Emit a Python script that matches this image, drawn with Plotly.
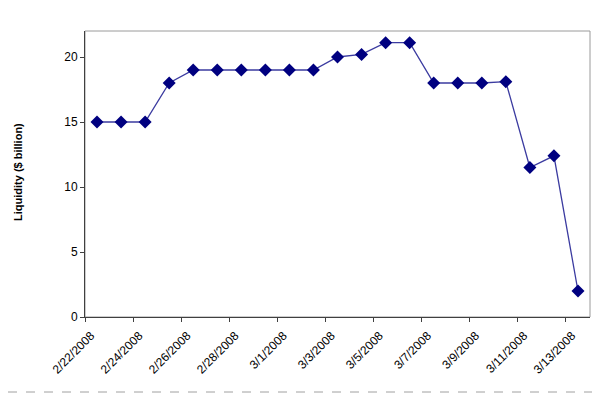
import plotly.graph_objects as go

dates = ["2/22/2008", "2/23/2008", "2/24/2008", "2/25/2008", "2/26/2008", "2/27/2008",
         "2/28/2008", "2/29/2008", "3/1/2008", "3/2/2008", "3/3/2008", "3/4/2008",
         "3/5/2008", "3/6/2008", "3/7/2008", "3/8/2008", "3/9/2008", "3/10/2008",
         "3/11/2008", "3/12/2008", "3/13/2008"]
liquidity = [15.0, 15.0, 15.0, 18.0, 19.0, 19.0, 19.0, 19.0, 19.0, 19.0, 20.0, 20.2,
             21.1, 21.1, 18.0, 18.0, 18.0, 18.1, 11.5, 12.4, 2.0]

# the page body adds an 8px offset, so the figure is laid out in shifted coords
OFF = 8
W, H = 600 - OFF, 393 - OFF
L, T = 85 - OFF, 31 - OFF
R = W - (590 - OFF)
B = H - (317 - OFF)
pw, ph = W - L - R, H - T - B

def px_x(x):
    return (x - OFF - L) / pw

def px_y(y):
    return (T + ph - (y - OFF)) / ph

fig = go.Figure()
fig.add_trace(go.Scatter(
    x=dates, y=liquidity, mode="lines+markers",
    line=dict(color="#3b3ba0", width=1.3),
    marker=dict(symbol="diamond", size=10, color="#000080",
                line=dict(color="#000080", width=0)),
    showlegend=False,
))

fig.update_layout(
    width=W, height=H,
    margin=dict(l=L, r=R, t=T, b=B, autoexpand=False),
    paper_bgcolor="white", plot_bgcolor="white",
    font=dict(family="Liberation Sans, Arial, sans-serif", size=11, color="#000000"),
    xaxis=dict(
        type="category", range=[-0.5, 20.5], automargin=False,
        tickmode="linear", tick0=0, dtick=2, tickson="boundaries",
        tickangle=-45, ticks="outside", ticklen=4, tickcolor="#404040",
        ticklabelstandoff=6, ticklabelshift=-6,
        showline=True, linecolor="#404040", linewidth=1,
        showgrid=False, zeroline=False,
        tickfont=dict(size=12),
    ),
    yaxis=dict(
        range=[0, 22], tickmode="linear", tick0=0, dtick=5, automargin=False,
        ticks="outside", ticklen=4, tickcolor="#404040",
        showline=True, linecolor="#404040", linewidth=1,
        showgrid=False, zeroline=False,
        tickfont=dict(size=12),
    ),
    shapes=[
        dict(type="rect", xref="paper", yref="paper", x0=0, y0=0, x1=1, y1=1,
             line=dict(color="#9a9a9a", width=1), layer="below"),
        dict(type="line", xref="paper", yref="paper",
             x0=px_x(OFF), x1=px_x(600),
             y0=px_y(392), y1=px_y(392),
             line=dict(color="#a0a0a0", width=1, dash="dash")),
    ],
    annotations=[
        dict(text="<b>Liquidity ($ billion)</b>", xref="paper", yref="paper",
             x=px_x(18), y=px_y(172), xanchor="center", yanchor="middle",
             textangle=-90, showarrow=False, font=dict(size=11)),
    ],
)

fig.write_html("out.html")
